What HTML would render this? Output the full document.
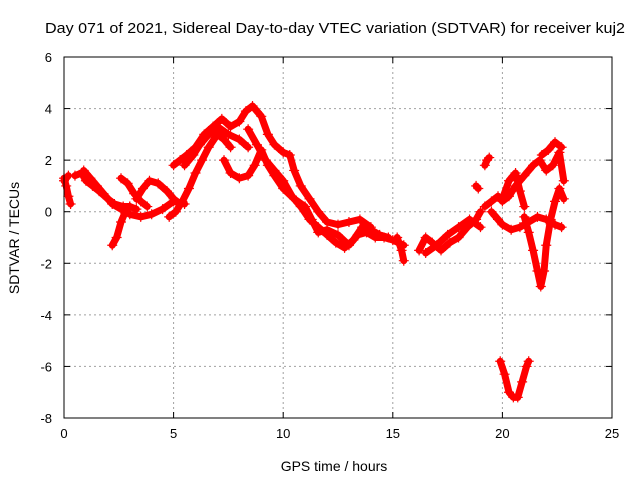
<!DOCTYPE html>
<html><head><meta charset="utf-8"><style>
body{margin:0;background:#fff}
svg{display:block;font-family:"Liberation Sans",sans-serif}
</style></head><body>
<svg id="chart" width="640" height="480">
<text x="335" y="33" font-size="15" text-anchor="middle" textLength="580" lengthAdjust="spacingAndGlyphs">Day 071 of 2021, Sidereal Day-to-day VTEC variation (SDTVAR) for receiver kuj2</text>
<text x="334" y="471" font-size="14" text-anchor="middle">GPS time / hours</text>
<text transform="translate(19,238) rotate(-90)" font-size="14" text-anchor="middle">SDTVAR / TECUs</text>
<g id="grid"></g><g id="marks"></g><g id="axes"></g>
</svg>
<script>
const xTicks=[0,5,10,15,20,25];
const yTicks=[-8,-6,-4,-2,0,2,4,6];
const tracks=[
 [[0,1.3],[0.1,1.0],[0.2,0.6],[0.3,0.3]],
 [[0,1.2],[0.2,1.4]],
 [[0.5,1.4],[0.8,1.5],[1.0,1.2],[1.3,1.0],[1.6,0.8],[2.0,0.5],[2.3,0.3],[2.7,0.2],[3.0,0.2],[3.3,0.1]],
 [[0.9,1.6],[1.2,1.3],[1.5,1.0],[1.8,0.7],[2.2,0.3],[2.6,0.1],[3.0,-0.1],[3.5,-0.2],[4.0,-0.1],[4.5,0.1],[5.0,0.4],[5.5,0.3]],
 [[2.2,-1.3],[2.4,-1.0],[2.6,-0.4],[2.8,0.0],[3.0,0.2]],
 [[2.6,1.3],[2.9,1.1],[3.2,0.7],[3.5,0.4],[3.8,0.2]],
 [[3.3,0.5],[3.6,0.9],[3.9,1.2],[4.3,1.1],[4.7,0.8],[5.0,0.5],[5.3,0.3]],
 [[4.8,-0.2],[5.1,0.0],[5.4,0.4],[5.7,0.9],[6.0,1.5],[6.3,2.0],[6.6,2.5],[7.0,3.0],[7.3,2.8],[7.6,2.5]],
 [[5.0,1.8],[5.3,2.0],[5.6,2.2],[6.0,2.5],[6.4,3.0],[6.8,3.3],[7.2,3.6],[7.6,3.3],[8.0,3.5],[8.3,3.9],[8.6,4.1],[9.0,3.7],[9.3,3.0],[9.6,2.6],[10.0,2.3],[10.3,2.2],[10.5,1.6],[10.8,1.0],[11.2,0.5],[11.6,0.0],[12.0,-0.4],[12.5,-0.5],[13.0,-0.4],[13.5,-0.3],[14.0,-0.6]],
 [[5.5,1.8],[5.9,2.2],[6.2,2.6],[6.5,2.9],[7.0,3.3],[7.5,3.0],[8.0,2.8],[8.4,2.5]],
 [[7.3,2.0],[7.6,1.5],[8.0,1.3],[8.4,1.4],[8.7,1.8],[9.0,2.4],[9.3,1.8],[9.6,1.4],[10.0,0.9],[10.5,0.5],[11.0,0.2],[11.3,-0.3],[11.6,-0.8],[12.0,-0.7],[12.5,-0.9],[13.0,-1.3],[13.4,-0.9],[13.8,-0.8],[14.2,-1.0],[14.6,-1.0],[15.0,-1.1],[15.5,-1.3]],
 [[8.4,3.2],[8.8,2.6],[9.2,2.0],[9.6,1.6],[10.0,1.2],[10.4,0.6],[10.8,0.2],[11.2,-0.3],[11.6,-0.6],[12.0,-0.9],[12.4,-1.2],[12.8,-1.4],[13.2,-1.1],[13.6,-0.6],[14.0,-0.7],[14.4,-0.9],[14.8,-1.0]],
 [[15.2,-1.0],[15.4,-1.5],[15.5,-1.9]],
 [[16.2,-1.5],[16.5,-1.0],[16.8,-1.2],[17.2,-1.5],[17.6,-1.2],[18.0,-1.0],[18.4,-0.6],[18.8,-0.3],[19.0,0.0]],
 [[16.5,-1.6],[17.0,-1.3],[17.5,-0.9],[18.0,-0.6],[18.5,-0.3],[19.0,-0.6]],
 [[18.8,1.0],[18.9,0.9]],
 [[19.2,1.8],[19.3,2.0],[19.4,2.1]],
 [[19.2,0.2],[19.5,0.4],[19.8,0.6],[20.0,0.4],[20.3,0.6],[20.6,1.0],[21.0,1.4],[21.4,1.8],[21.7,2.0],[22.0,1.6],[22.3,1.8],[22.6,2.3],[22.8,1.2]],
 [[19.5,0.0],[19.8,-0.3],[20.0,-0.5],[20.4,-0.7],[20.8,-0.6],[21.2,-0.4],[21.6,-0.2],[22.0,-0.3],[22.4,-0.5],[22.7,-0.6]],
 [[20.0,0.5],[20.3,1.2],[20.6,1.5],[20.8,0.8],[21.0,0.2]],
 [[21.0,-0.2],[21.2,-0.8],[21.4,-1.5],[21.6,-2.3],[21.75,-2.9],[21.9,-2.3],[22.0,-1.3],[22.2,-0.3],[22.4,0.4],[22.6,0.9],[22.8,0.5]],
 [[21.8,2.2],[22.1,2.4],[22.4,2.7],[22.7,2.5]],
 [[19.9,-5.8],[20.1,-6.3],[20.3,-7.0],[20.5,-7.2],[20.7,-7.2],[20.9,-6.6],[21.1,-6.0],[21.2,-5.8]]
];
const L=64,R=612,T=57,B=418;
const sx=v=>L+(v-0)/(25-0)*(R-L);
const sy=v=>B-(v+8)/14*(B-T);
const NS="http://www.w3.org/2000/svg";
const grid=document.getElementById('grid'),axes=document.getElementById('axes'),marks=document.getElementById('marks');
function mk(tag,at,parent){const e=document.createElementNS(NS,tag);for(const k in at)e.setAttribute(k,at[k]);parent.appendChild(e);return e;}
xTicks.forEach(t=>{
 const x=sx(t);
 if(t>0&&t<25){const g=mk('line',{x1:x,x2:x,y1:T,y2:B,stroke:'#a0a0a0','stroke-dasharray':'2,3','stroke-width':1},grid);
 
 }
 mk('line',{x1:x,x2:x,y1:B,y2:B-6,stroke:'#000'},axes);
 mk('line',{x1:x,x2:x,y1:T,y2:T+6,stroke:'#000'},axes);
 const tx=mk('text',{x:x,y:B+20,'font-size':13,'text-anchor':'middle'},axes);tx.textContent=t;
 
 
});
yTicks.forEach(t=>{
 const y=sy(t);
 if(t>-8&&t<6){const g=mk('line',{x1:L,x2:R,y1:y,y2:y,stroke:'#a0a0a0','stroke-dasharray':'2,3','stroke-width':1},grid);
 
 }
 mk('line',{x1:L,x2:L+6,y1:y,y2:y,stroke:'#000'},axes);
 mk('line',{x1:R,x2:R-6,y1:y,y2:y,stroke:'#000'},axes);
 const tx=mk('text',{x:L-12,y:y+5,'font-size':13,'text-anchor':'end'},axes);tx.textContent=t;
 
 
});
const fr=mk('rect',{x:L,y:T,width:R-L,height:B-T,fill:'none',stroke:'#000'},axes);


tracks.forEach((tr,i)=>{
 const pl=mk('polyline',{points:tr.map(p=>sx(p[0])+','+sy(p[1])).join(' '),fill:'none',stroke:'#ff0000','stroke-width':7,'stroke-linejoin':'round','stroke-linecap':'round'},marks);
 
 
 tr.forEach(p=>{
  const x=sx(p[0]),y=sy(p[1]);
  const c=mk('path',{d:`M${x-5},${y}H${x+5}M${x},${y-5}V${y+5}`,stroke:'#ff0000','stroke-width':1.2},marks);
  
  
 });
});
</script>
</body></html>
